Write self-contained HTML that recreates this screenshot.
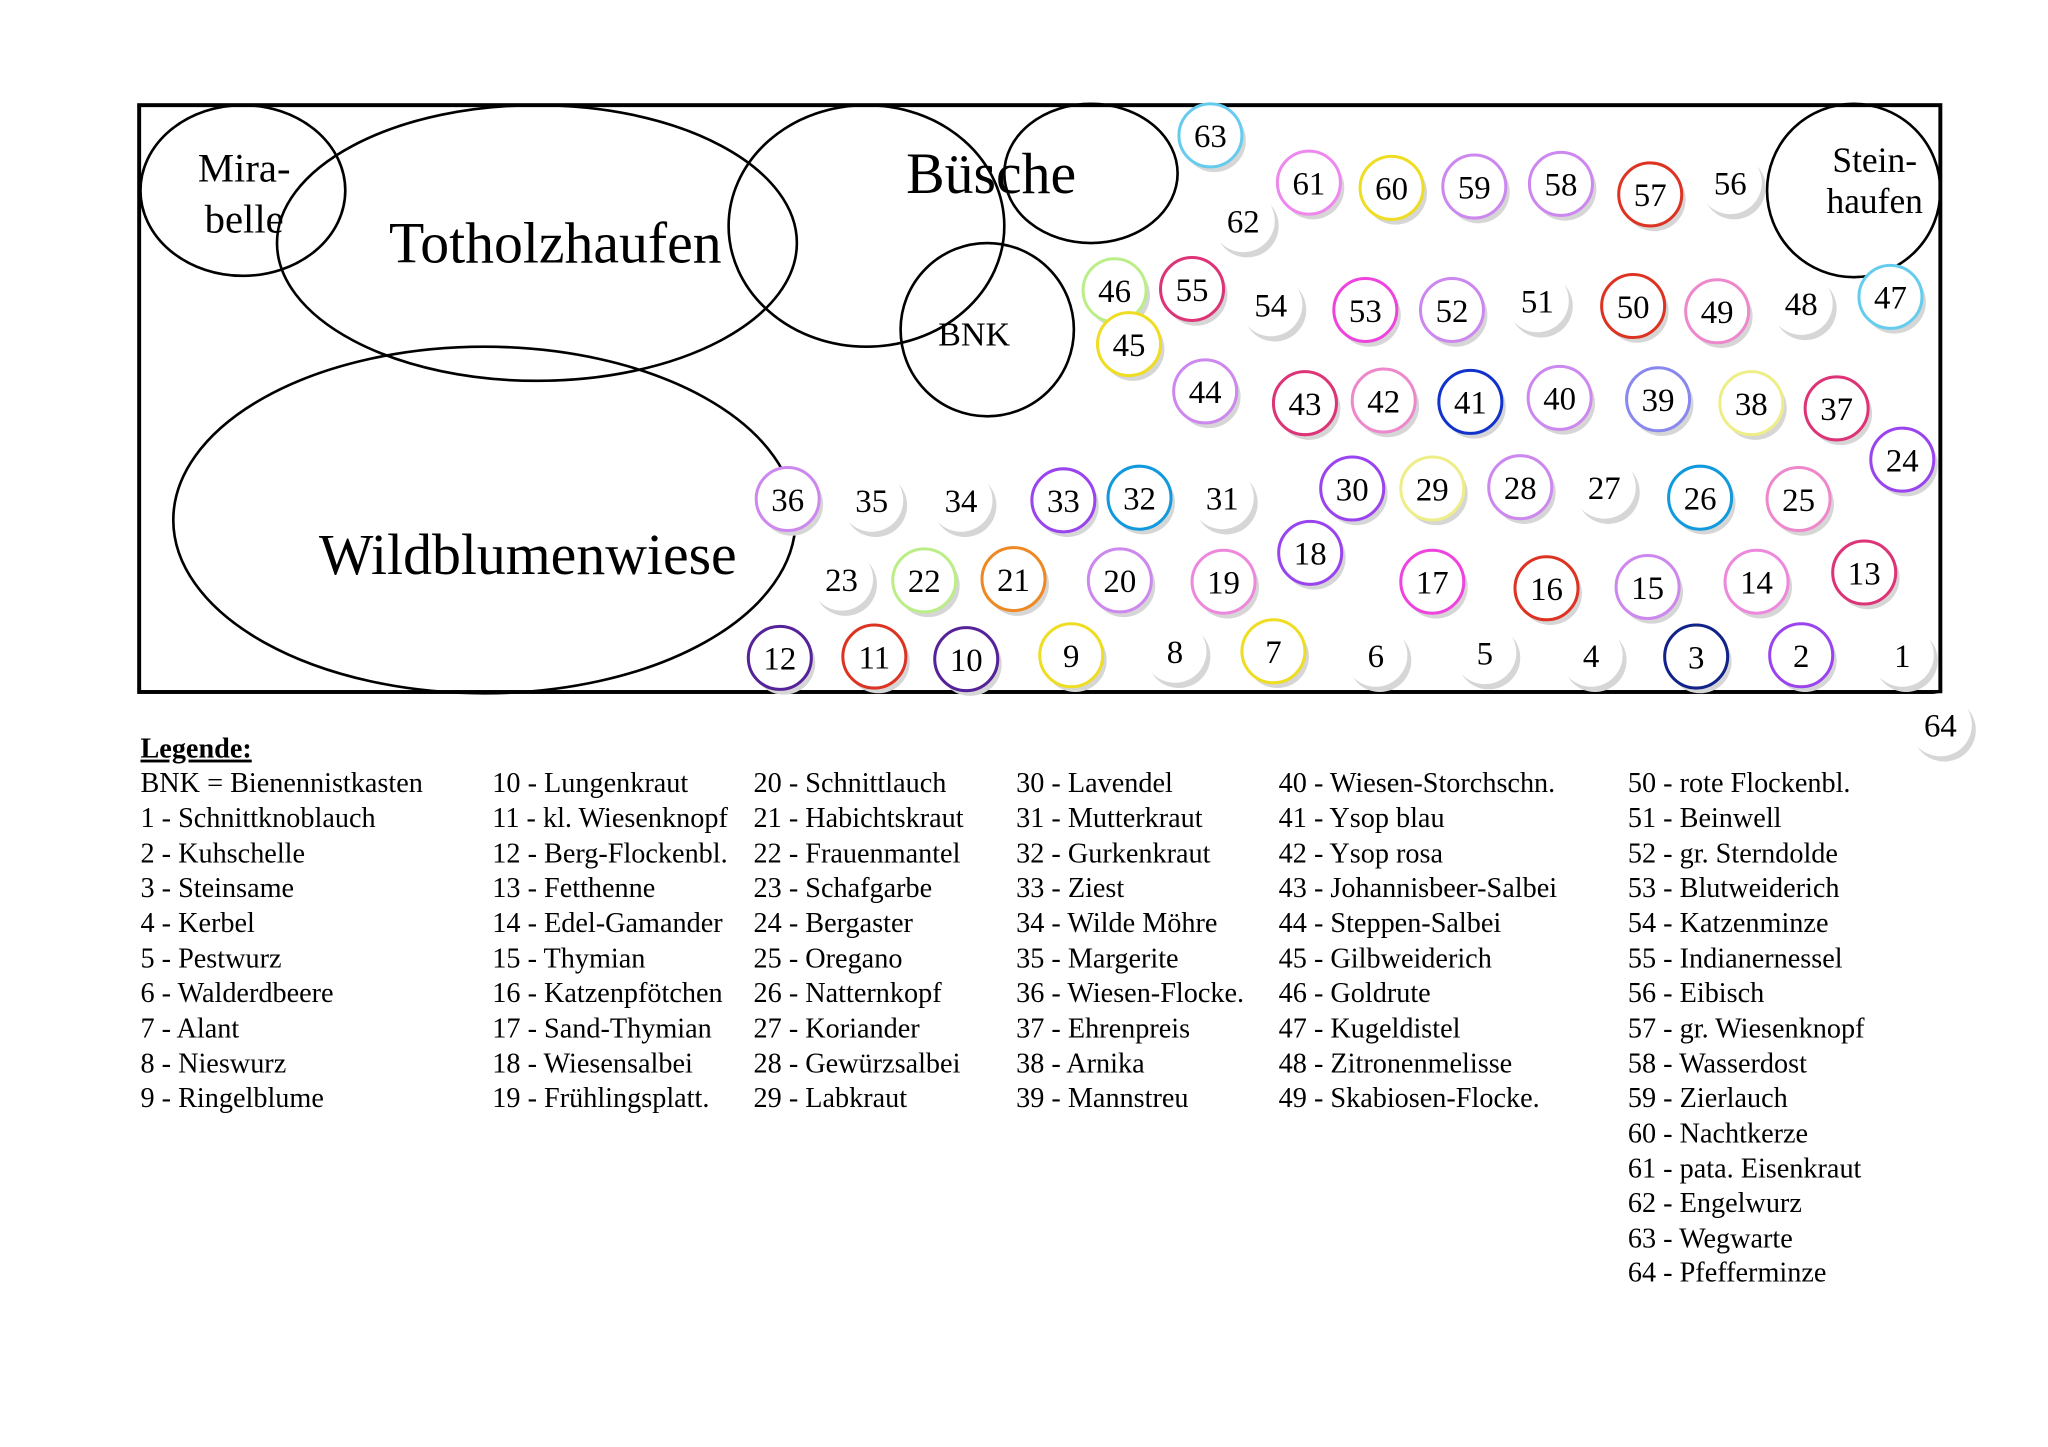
<!DOCTYPE html>
<html><head><meta charset="utf-8"><style>
html,body{margin:0;padding:0;background:#fff}
svg{display:block}
text{font-family:"Liberation Serif",serif;fill:#000}
.n{font-size:25px;text-anchor:middle}
.sh{fill:#d6d6d6}
.c{fill:#fff;stroke-width:2.3}
.e{fill:none;stroke:#000;stroke-width:2}
.lg text{font-size:21.5px}
</style></head><body>
<svg width="2048" height="1447" viewBox="0 0 1560 1102" xmlns="http://www.w3.org/2000/svg">
<rect x="106" y="80" width="1372" height="447" fill="none" stroke="#000" stroke-width="3"/>
<ellipse class="e" cx="185" cy="145" rx="78" ry="65"/>
<ellipse class="e" cx="409" cy="185" rx="198" ry="105"/>
<ellipse class="e" cx="660" cy="172" rx="105" ry="92"/>
<ellipse class="e" cx="831" cy="132" rx="66" ry="53"/>
<ellipse class="e" cx="752" cy="251" rx="66" ry="66"/>
<ellipse class="e" cx="369" cy="396" rx="237" ry="132"/>
<ellipse class="e" cx="1412" cy="145" rx="66" ry="66"/>
<text x="186" y="138" font-size="31" text-anchor="middle">Mira-</text>
<text x="186" y="177" font-size="31" text-anchor="middle">belle</text>
<text x="423" y="200" font-size="44" text-anchor="middle">Totholzhaufen</text>
<text x="755" y="147" font-size="44" text-anchor="middle">Büsche</text>
<text x="742" y="263" font-size="26" text-anchor="middle">BNK</text>
<text x="402" y="437" font-size="44" text-anchor="middle">Wildblumenwiese</text>
<text x="1428" y="131" font-size="27" text-anchor="middle">Stein-</text>
<text x="1428" y="162" font-size="27" text-anchor="middle">haufen</text>

<g>
<circle class="sh" cx="925" cy="107" r="24"/><circle class="c" cx="922" cy="103" r="24" stroke="#66ccee"/><text class="n" x="922" y="112">63</text>
<circle class="sh" cx="1000" cy="143" r="24"/><circle class="c" cx="997" cy="139" r="24" stroke="#ee88ee"/><text class="n" x="997" y="148">61</text>
<circle class="sh" cx="1063" cy="147" r="24"/><circle class="c" cx="1060" cy="143" r="24" stroke="#eedd22"/><text class="n" x="1060" y="152">60</text>
<circle class="sh" cx="1126" cy="146" r="24"/><circle class="c" cx="1123" cy="142" r="24" stroke="#cc88ee"/><text class="n" x="1123" y="151">59</text>
<circle class="sh" cx="1192" cy="144" r="24"/><circle class="c" cx="1189" cy="140" r="24" stroke="#cc88ee"/><text class="n" x="1189" y="149">58</text>
<circle class="sh" cx="1260" cy="152" r="24"/><circle class="c" cx="1257" cy="148" r="24" stroke="#dd3322"/><text class="n" x="1257" y="157">57</text>
<circle class="sh" cx="1321" cy="143" r="24"/><circle cx="1318" cy="139" r="24" fill="#fff"/><text class="n" x="1318" y="148">56</text>
<circle class="sh" cx="950" cy="172" r="24"/><circle cx="947" cy="168" r="24" fill="#fff"/><text class="n" x="947" y="177">62</text>

<circle class="sh" cx="852" cy="225" r="24"/><circle class="c" cx="849" cy="221" r="24" stroke="#bbee88"/><text class="n" x="849" y="230">46</text>
<circle class="sh" cx="863" cy="266" r="24"/><circle class="c" cx="860" cy="262" r="24" stroke="#eedd22"/><text class="n" x="860" y="271">45</text>
<circle class="sh" cx="911" cy="224" r="24"/><circle class="c" cx="908" cy="220" r="24" stroke="#dd3377"/><text class="n" x="908" y="229">55</text>
<circle class="sh" cx="971" cy="236" r="24"/><circle cx="968" cy="232" r="24" fill="#fff"/><text class="n" x="968" y="241">54</text>
<circle class="sh" cx="1043" cy="240" r="24"/><circle class="c" cx="1040" cy="236" r="24" stroke="#ee44dd"/><text class="n" x="1040" y="245">53</text>
<circle class="sh" cx="1109" cy="240" r="24"/><circle class="c" cx="1106" cy="236" r="24" stroke="#cc88ee"/><text class="n" x="1106" y="245">52</text>
<circle class="sh" cx="1174" cy="233" r="24"/><circle cx="1171" cy="229" r="24" fill="#fff"/><text class="n" x="1171" y="238">51</text>
<circle class="sh" cx="1247" cy="237" r="24"/><circle class="c" cx="1244" cy="233" r="24" stroke="#dd3322"/><text class="n" x="1244" y="242">50</text>
<circle class="sh" cx="1311" cy="241" r="24"/><circle class="c" cx="1308" cy="237" r="24" stroke="#ee88cc"/><text class="n" x="1308" y="246">49</text>
<circle class="sh" cx="1375" cy="235" r="24"/><circle cx="1372" cy="231" r="24" fill="#fff"/><text class="n" x="1372" y="240">48</text>
<circle class="sh" cx="1443" cy="230" r="24"/><circle class="c" cx="1440" cy="226" r="24" stroke="#66ccee"/><text class="n" x="1440" y="235">47</text>

<circle class="sh" cx="921" cy="302" r="24"/><circle class="c" cx="918" cy="298" r="24" stroke="#cc88ee"/><text class="n" x="918" y="307">44</text>
<circle class="sh" cx="997" cy="311" r="24"/><circle class="c" cx="994" cy="307" r="24" stroke="#dd3377"/><text class="n" x="994" y="316">43</text>
<circle class="sh" cx="1057" cy="309" r="24"/><circle class="c" cx="1054" cy="305" r="24" stroke="#ee88cc"/><text class="n" x="1054" y="314">42</text>
<circle class="sh" cx="1123" cy="310" r="24"/><circle class="c" cx="1120" cy="306" r="24" stroke="#1133cc"/><text class="n" x="1120" y="315">41</text>
<circle class="sh" cx="1191" cy="307" r="24"/><circle class="c" cx="1188" cy="303" r="24" stroke="#cc88ee"/><text class="n" x="1188" y="312">40</text>
<circle class="sh" cx="1266" cy="308" r="24"/><circle class="c" cx="1263" cy="304" r="24" stroke="#8888ee"/><text class="n" x="1263" y="313">39</text>
<circle class="sh" cx="1337" cy="311" r="24"/><circle class="c" cx="1334" cy="307" r="24" stroke="#eeee88"/><text class="n" x="1334" y="316">38</text>
<circle class="sh" cx="1402" cy="315" r="24"/><circle class="c" cx="1399" cy="311" r="24" stroke="#dd3377"/><text class="n" x="1399" y="320">37</text>
<circle class="sh" cx="1452" cy="354" r="24"/><circle class="c" cx="1449" cy="350" r="24" stroke="#9944ee"/><text class="n" x="1449" y="359">24</text>

<circle class="sh" cx="603" cy="384" r="24"/><circle class="c" cx="600" cy="380" r="24" stroke="#cc88ee"/><text class="n" x="600" y="389">36</text>
<circle class="sh" cx="667" cy="385" r="24"/><circle cx="664" cy="381" r="24" fill="#fff"/><text class="n" x="664" y="390">35</text>
<circle class="sh" cx="735" cy="385" r="24"/><circle cx="732" cy="381" r="24" fill="#fff"/><text class="n" x="732" y="390">34</text>
<circle class="sh" cx="813" cy="385" r="24"/><circle class="c" cx="810" cy="381" r="24" stroke="#9944ee"/><text class="n" x="810" y="390">33</text>
<circle class="sh" cx="871" cy="383" r="24"/><circle class="c" cx="868" cy="379" r="24" stroke="#1199dd"/><text class="n" x="868" y="388">32</text>
<circle class="sh" cx="934" cy="383" r="24"/><circle cx="931" cy="379" r="24" fill="#fff"/><text class="n" x="931" y="388">31</text>
<circle class="sh" cx="1033" cy="376" r="24"/><circle class="c" cx="1030" cy="372" r="24" stroke="#9944ee"/><text class="n" x="1030" y="381">30</text>
<circle class="sh" cx="1094" cy="376" r="24"/><circle class="c" cx="1091" cy="372" r="24" stroke="#eeee88"/><text class="n" x="1091" y="381">29</text>
<circle class="sh" cx="1161" cy="375" r="24"/><circle class="c" cx="1158" cy="371" r="24" stroke="#cc88ee"/><text class="n" x="1158" y="380">28</text>
<circle class="sh" cx="1225" cy="375" r="24"/><circle cx="1222" cy="371" r="24" fill="#fff"/><text class="n" x="1222" y="380">27</text>
<circle class="sh" cx="1298" cy="383" r="24"/><circle class="c" cx="1295" cy="379" r="24" stroke="#1199dd"/><text class="n" x="1295" y="388">26</text>
<circle class="sh" cx="1373" cy="384" r="24"/><circle class="c" cx="1370" cy="380" r="24" stroke="#ee88cc"/><text class="n" x="1370" y="389">25</text>

<circle class="sh" cx="644" cy="445" r="24"/><circle cx="641" cy="441" r="24" fill="#fff"/><text class="n" x="641" y="450">23</text>
<circle class="sh" cx="707" cy="446" r="24"/><circle class="c" cx="704" cy="442" r="24" stroke="#bbee88"/><text class="n" x="704" y="451">22</text>
<circle class="sh" cx="775" cy="445" r="24"/><circle class="c" cx="772" cy="441" r="24" stroke="#ee8822"/><text class="n" x="772" y="450">21</text>
<circle class="sh" cx="856" cy="446" r="24"/><circle class="c" cx="853" cy="442" r="24" stroke="#cc88ee"/><text class="n" x="853" y="451">20</text>
<circle class="sh" cx="935" cy="447" r="24"/><circle class="c" cx="932" cy="443" r="24" stroke="#ee88dd"/><text class="n" x="932" y="452">19</text>
<circle class="sh" cx="1001" cy="425" r="24"/><circle class="c" cx="998" cy="421" r="24" stroke="#9944ee"/><text class="n" x="998" y="430">18</text>
<circle class="sh" cx="1094" cy="447" r="24"/><circle class="c" cx="1091" cy="443" r="24" stroke="#ee44dd"/><text class="n" x="1091" y="452">17</text>
<circle class="sh" cx="1181" cy="452" r="24"/><circle class="c" cx="1178" cy="448" r="24" stroke="#dd3322"/><text class="n" x="1178" y="457">16</text>
<circle class="sh" cx="1258" cy="451" r="24"/><circle class="c" cx="1255" cy="447" r="24" stroke="#cc88ee"/><text class="n" x="1255" y="456">15</text>
<circle class="sh" cx="1341" cy="447" r="24"/><circle class="c" cx="1338" cy="443" r="24" stroke="#ee88dd"/><text class="n" x="1338" y="452">14</text>
<circle class="sh" cx="1423" cy="440" r="24"/><circle class="c" cx="1420" cy="436" r="24" stroke="#dd3377"/><text class="n" x="1420" y="445">13</text>

<circle class="sh" cx="597" cy="505" r="24"/><circle class="c" cx="594" cy="501" r="24" stroke="#552299"/><text class="n" x="594" y="510">12</text>
<circle class="sh" cx="669" cy="504" r="24"/><circle class="c" cx="666" cy="500" r="24" stroke="#dd3322"/><text class="n" x="666" y="509">11</text>
<circle class="sh" cx="739" cy="506" r="24"/><circle class="c" cx="736" cy="502" r="24" stroke="#552299"/><text class="n" x="736" y="511">10</text>
<circle class="sh" cx="819" cy="503" r="24"/><circle class="c" cx="816" cy="499" r="24" stroke="#eedd22"/><text class="n" x="816" y="508">9</text>
<circle class="sh" cx="898" cy="500" r="24"/><circle cx="895" cy="496" r="24" fill="#fff"/><text class="n" x="895" y="505">8</text>
<circle class="sh" cx="973" cy="500" r="24"/><circle class="c" cx="970" cy="496" r="24" stroke="#eedd22"/><text class="n" x="970" y="505">7</text>
<circle class="sh" cx="1051" cy="503" r="24"/><circle cx="1048" cy="499" r="24" fill="#fff"/><text class="n" x="1048" y="508">6</text>
<circle class="sh" cx="1134" cy="501" r="24"/><circle cx="1131" cy="497" r="24" fill="#fff"/><text class="n" x="1131" y="506">5</text>
<circle class="sh" cx="1215" cy="503" r="24"/><circle cx="1212" cy="499" r="24" fill="#fff"/><text class="n" x="1212" y="508">4</text>
<circle class="sh" cx="1295" cy="504" r="24"/><circle class="c" cx="1292" cy="500" r="24" stroke="#112288"/><text class="n" x="1292" y="509">3</text>
<circle class="sh" cx="1375" cy="503" r="24"/><circle class="c" cx="1372" cy="499" r="24" stroke="#9944ee"/><text class="n" x="1372" y="508">2</text>
<circle class="sh" cx="1452" cy="503" r="24"/><circle cx="1449" cy="499" r="24" fill="#fff"/><text class="n" x="1449" y="508">1</text>
<circle class="sh" cx="1481" cy="556" r="24"/><circle cx="1478" cy="552" r="24" fill="#fff"/><text class="n" x="1478" y="561">64</text>
</g>

<g class="lg">
<text x="107" y="577" font-weight="bold" text-decoration="underline">Legende:</text>
<text x="107" y="603">BNK = Bienennistkasten</text>
<text x="107" y="630">1 - Schnittknoblauch</text>
<text x="107" y="657">2 - Kuhschelle</text>
<text x="107" y="683">3 - Steinsame</text>
<text x="107" y="710">4 - Kerbel</text>
<text x="107" y="737">5 - Pestwurz</text>
<text x="107" y="763">6 - Walderdbeere</text>
<text x="107" y="790">7 - Alant</text>
<text x="107" y="817">8 - Nieswurz</text>
<text x="107" y="843">9 - Ringelblume</text>

<text x="375" y="603">10 - Lungenkraut</text>
<text x="375" y="630">11 - kl. Wiesenknopf</text>
<text x="375" y="657">12 - Berg-Flockenbl.</text>
<text x="375" y="683">13 - Fetthenne</text>
<text x="375" y="710">14 - Edel-Gamander</text>
<text x="375" y="737">15 - Thymian</text>
<text x="375" y="763">16 -  Katzenpfötchen</text>
<text x="375" y="790">17 - Sand-Thymian</text>
<text x="375" y="817">18 - Wiesensalbei</text>
<text x="375" y="843">19 - Frühlingsplatt.</text>

<text x="574" y="603">20 - Schnittlauch</text>
<text x="574" y="630">21 - Habichtskraut</text>
<text x="574" y="657">22 - Frauenmantel</text>
<text x="574" y="683">23 - Schafgarbe</text>
<text x="574" y="710">24 - Bergaster</text>
<text x="574" y="737">25 - Oregano</text>
<text x="574" y="763">26 - Natternkopf</text>
<text x="574" y="790">27 - Koriander</text>
<text x="574" y="817">28 - Gewürzsalbei</text>
<text x="574" y="843">29 - Labkraut</text>

<text x="774" y="603">30 - Lavendel</text>
<text x="774" y="630">31 - Mutterkraut</text>
<text x="774" y="657">32 - Gurkenkraut</text>
<text x="774" y="683">33 - Ziest</text>
<text x="774" y="710">34 - Wilde Möhre</text>
<text x="774" y="737">35 - Margerite</text>
<text x="774" y="763">36 - Wiesen-Flocke.</text>
<text x="774" y="790">37 - Ehrenpreis</text>
<text x="774" y="817">38 - Arnika</text>
<text x="774" y="843">39 - Mannstreu</text>

<text x="974" y="603">40 - Wiesen-Storchschn.</text>
<text x="974" y="630">41 - Ysop blau</text>
<text x="974" y="657">42 - Ysop rosa</text>
<text x="974" y="683">43 - Johannisbeer-Salbei</text>
<text x="974" y="710">44 - Steppen-Salbei</text>
<text x="974" y="737">45 - Gilbweiderich</text>
<text x="974" y="763">46 - Goldrute</text>
<text x="974" y="790">47 - Kugeldistel</text>
<text x="974" y="817">48 - Zitronenmelisse</text>
<text x="974" y="843">49 - Skabiosen-Flocke.</text>

<text x="1240" y="603">50 - rote Flockenbl.</text>
<text x="1240" y="630">51 - Beinwell</text>
<text x="1240" y="657">52 - gr. Sterndolde</text>
<text x="1240" y="683">53 - Blutweiderich</text>
<text x="1240" y="710">54 - Katzenminze</text>
<text x="1240" y="737">55 - Indianernessel</text>
<text x="1240" y="763">56 - Eibisch</text>
<text x="1240" y="790">57 - gr. Wiesenknopf</text>
<text x="1240" y="817">58 - Wasserdost</text>
<text x="1240" y="843">59 - Zierlauch</text>
<text x="1240" y="870">60 - Nachtkerze</text>
<text x="1240" y="897">61 - pata. Eisenkraut</text>
<text x="1240" y="923">62 - Engelwurz</text>
<text x="1240" y="950">63 - Wegwarte</text>
<text x="1240" y="976">64 - Pfefferminze</text>
</g>
</svg>
</body></html>
